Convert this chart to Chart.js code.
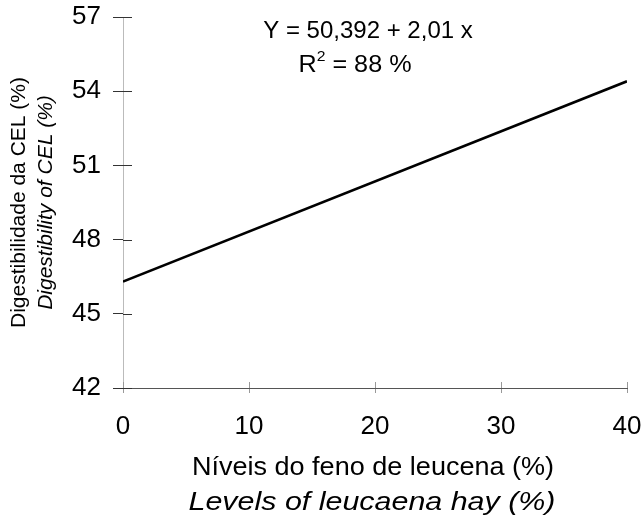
<!DOCTYPE html>
<html>
<head>
<meta charset="utf-8">
<script src="https://cdn.jsdelivr.net/npm/chart.js@4.4.1/dist/chart.umd.min.js"></script>
<style>
  html, body { margin: 0; padding: 0; background: #fff; }
  #wrap { width: 641px; height: 522px; position: relative; }
</style>
</head>
<body>
<div id="wrap"><canvas id="c" width="641" height="522"></canvas></div>
<script>
// ---- data ----
const levels = [0, 40];                 // Níveis do feno de leucena (%)
const digestibility = [46.3, 54.4];     // Digestibilidade da CEL (%)
const xTicks = [0, 10, 20, 30, 40];
const yTicks = [42, 45, 48, 51, 54, 57];
const equationLines = ["Y = 50,392 + 2,01 x", "R2 = 88 %"];
const xTitleLines = ["Níveis do feno de leucena (%)", "Levels of leucaena hay (%)"];
const yTitleLines = ["Digestibilidade da CEL (%)", "Digestibility of CEL (%)"];

const FONT = '"Liberation Sans", Arial, Helvetica, sans-serif';

const points = levels.map((x, i) => ({ x: x, y: digestibility[i] }));

const decorPlugin = {
  id: 'decor',
  afterDraw(chart) {
    const ctx = chart.ctx;
    const xs = chart.scales.x, ys = chart.scales.y;
    const ca = chart.chartArea;
    ctx.save();
    // inner halves of tick marks
    ctx.strokeStyle = '#333';
    ctx.lineWidth = 1;
    yTicks.forEach(v => {
      const py = Math.round(ys.getPixelForValue(v)) + 0.5;
      ctx.beginPath(); ctx.moveTo(ca.left, py); ctx.lineTo(ca.left + 9, py); ctx.stroke();
    });
    ctx.strokeStyle = '#999';
    xTicks.forEach(v => {
      const px = Math.round(xs.getPixelForValue(v)) + 0.5;
      ctx.beginPath(); ctx.moveTo(px, ca.bottom); ctx.lineTo(px, ca.bottom - 6); ctx.stroke();
    });

    ctx.fillStyle = '#000';
    ctx.textAlign = 'center';
    ctx.textBaseline = 'middle';
    const cx = (ca.left + ca.right) / 2;

    function stretched(text, x, y, font, sx) {
      ctx.save();
      ctx.translate(x, y);
      ctx.scale(sx, 1);
      ctx.font = font;
      ctx.fillText(text, 0, 0);
      ctx.restore();
    }
    // equation
    stretched(equationLines[0], 368, 31, '24px ' + FONT, 1.0);
    // R² with superscript
    ctx.save();
    ctx.translate(355, 65);
    ctx.scale(1.05, 1);
    const rPart = 'R', supPart = '2', rest = ' = 88 %';
    ctx.font = '24px ' + FONT;
    const wR = ctx.measureText(rPart).width;
    const wRest = ctx.measureText(rest).width;
    ctx.font = '15px ' + FONT;
    const wS = ctx.measureText(supPart).width;
    const total = wR + wS + wRest;
    const x0 = -total / 2;
    ctx.textAlign = 'left';
    ctx.font = '24px ' + FONT;
    ctx.fillText(rPart, x0, 0);
    ctx.font = '15px ' + FONT;
    ctx.fillText(supPart, x0 + wR, -8);
    ctx.font = '24px ' + FONT;
    ctx.fillText(rest, x0 + wR + wS, 0);
    ctx.restore();

    // x title
    stretched(xTitleLines[0], 373, 468, '26px ' + FONT, 1.04);
    stretched(xTitleLines[1], 372, 503, 'italic 26px ' + FONT, 1.17);

    // y title
    const cy = (ca.top + ca.bottom) / 2;
    ctx.save();
    ctx.translate(19, cy);
    ctx.rotate(-Math.PI / 2);
    ctx.font = '21px ' + FONT;
    ctx.fillText(yTitleLines[0], 0, 0);
    ctx.restore();
    ctx.save();
    ctx.translate(46, cy);
    ctx.rotate(-Math.PI / 2);
    ctx.font = 'italic 21px ' + FONT;
    ctx.fillText(yTitleLines[1], 0, 0);
    ctx.restore();

    ctx.restore();
  }
};

new Chart(document.getElementById('c'), {
  type: 'line',
  data: {
    datasets: [{
      data: points,
      borderColor: '#000',
      borderWidth: 2.6,
      pointRadius: 0,
      fill: false,
      tension: 0
    }]
  },
  options: {
    responsive: false,
    animation: false,
    events: [],
    layout: { padding: { left: 0, right: 14, top: 17, bottom: 0 } },
    plugins: { legend: { display: false }, tooltip: { enabled: false } },
    scales: {
      x: {
        type: 'linear',
        min: 0, max: 40,
        afterBuildTicks: s => { s.ticks = xTicks.map(v => ({ value: v })); },
        afterFit: s => { s.height = 134; s.paddingLeft = 0; s.paddingRight = 0; },
        grid: { drawOnChartArea: false, drawTicks: true, tickLength: 5, tickColor: '#999' },
        border: { display: true, color: '#555', width: 1 },
        ticks: { padding: 18, color: '#000', font: { family: FONT, size: 26 }, maxRotation: 0 }
      },
      y: {
        min: 42, max: 57,
        afterBuildTicks: s => { s.ticks = yTicks.map(v => ({ value: v })); },
        afterFit: s => { s.width = 123; s.paddingTop = 0; s.paddingBottom = 0; },
        grid: { drawOnChartArea: false, drawTicks: true, tickLength: 10, tickColor: '#333' },
        border: { display: true, color: '#bbb', width: 1, dash: [1, 5] },
        ticks: { padding: 12, color: '#000', font: { family: FONT, size: 26 } }
      }
    }
  },
  plugins: [decorPlugin]
});
</script>
</body>
</html>
